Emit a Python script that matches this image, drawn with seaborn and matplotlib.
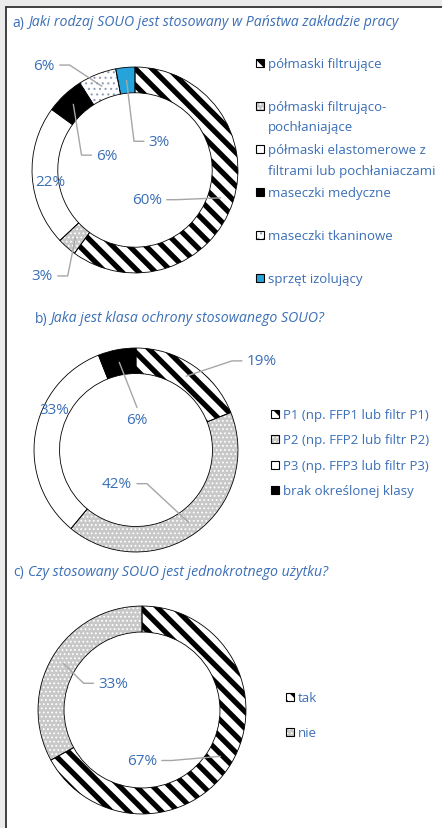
import numpy as np
import matplotlib.pyplot as plt
import seaborn as sns
from matplotlib.patches import Rectangle
from matplotlib.lines import Line2D

sns.set_theme(style='white')
plt.rcParams['font.family'] = ['Open Sans', 'DejaVu Sans']

W, H = 442, 829
BLUE_TXT = '#3b6fb6'

# a) rodzaj SOUO
a_labels = ['półmaski filtrujące', 'półmaski filtrująco-\npochłaniające',
            'półmaski elastomerowe z\nfiltrami lub pochłaniaczami',
            'maseczki medyczne', 'maseczki tkaninowe', 'sprzęt izolujący']
a_values = [60, 3, 22, 6, 6, 3]
a_styles = ['stripe', 'gray', 'white', 'black', 'wdots', 'blue']

# b) klasa ochrony
b_labels = ['P1 (np. FFP1 lub filtr P1)', 'P2 (np. FFP2 lub filtr P2)',
            'P3 (np. FFP3 lub filtr P3)', 'brak określonej klasy']
b_values = [19, 42, 33, 6]
b_styles = ['stripe', 'gray', 'white', 'black']

# c) jednokrotnego użytku
c_labels = ['tak', 'nie']
c_values = [67, 33]
c_styles = ['stripe', 'gray']

STYLES = {
    'stripe': dict(fc='white', hatch='\\\\', hc='black', hlw=3.8),
    'gray': dict(fc='#c8c8c8', hatch='....', hc='white', hlw=0.8),
    'white': dict(fc='white', hatch='', hc='white', hlw=0.8),
    'black': dict(fc='black', hatch='', hc='black', hlw=0.8),
    'wdots': dict(fc='white', hatch='...', hc='#8f9fb8', hlw=0.8),
    'blue': dict(fc='#27a3dc', hatch='', hc='#27a3dc', hlw=0.8),
}


def fx(px):
    return px / W


def fy(py):
    return 1 - py / H


def style_patch(p, key):
    s = STYLES[key]
    p.set_facecolor(s['fc'])
    p.set_edgecolor(s['hc'])
    p.set_linewidth(0)
    p.set_hatch(s['hatch'])
    if hasattr(p, 'set_hatch_linewidth'):
        p.set_hatch_linewidth(s['hlw'])


def donut(fig, cx, cy, R, values, styles, layout):
    ax = fig.add_axes([fx(cx - R), fy(cy + R), 2 * R / W, 2 * R / H])
    ax.patch.set_alpha(0)
    wedges, _ = ax.pie(values, startangle=90, counterclock=False, radius=1,
                       wedgeprops=dict(width=0.25, linewidth=0))
    for w, st in zip(wedges, styles):
        style_patch(w, st)
    ax.pie(values, startangle=90, counterclock=False, radius=1,
           wedgeprops=dict(width=0.25, facecolor='none', edgecolor='black', linewidth=0.6))
    ax.set_xlim(-1.01, 1.01)
    ax.set_ylim(-1.01, 1.01)
    ax.axis('off')

    def to_d(px, py):
        return (px - cx) / R, -(py - cy) / R

    for w, v, (tx, ty, ha, lead) in zip(wedges, values, layout):
        mid = np.deg2rad((w.theta1 + w.theta2) / 2)
        anc = (0.875 * np.cos(mid), 0.875 * np.sin(mid))
        ax.text(*to_d(tx, ty), f'{v}%', ha=ha, va='center', color=BLUE_TXT,
                fontsize=11, zorder=5)
        if lead == 'side':
            sgn = -1 if ha == 'left' else 1
            edge = tx + sgn * 5
            elbow = edge + sgn * 10
            pts = [anc, to_d(elbow, ty), to_d(edge, ty)]
        elif lead == 'top':
            pts = [anc, to_d(tx, ty - 12)]
        else:
            continue
        ax.plot([p[0] for p in pts], [p[1] for p in pts], color='#a6a6a6',
                lw=1.0, zorder=4, clip_on=False)
    return ax


def legend(fig, x, y0, step, labels, styles):
    for i, (lab, st) in enumerate(zip(labels, styles)):
        y = y0 + i * step
        s = STYLES[st]
        fill = Rectangle((fx(x), fy(y + 4)), 8 / W, 8 / H, transform=fig.transFigure,
                         facecolor=s['fc'], edgecolor=s['hc'], linewidth=0, hatch=s['hatch'])
        if hasattr(fill, 'set_hatch_linewidth'):
            fill.set_hatch_linewidth(s['hlw'])
        fig.add_artist(fill)
        fig.add_artist(Rectangle((fx(x), fy(y + 4)), 8 / W, 8 / H, transform=fig.transFigure,
                                 facecolor='none', edgecolor='black', linewidth=0.8))
        fig.text(fx(x + 12), fy(y - 6), lab, ha='left', va='top', color=BLUE_TXT,
                 fontsize=9.5, linespacing=1.75)


def title(fig, x_tag, x_txt, y, tag, txt):
    fig.text(fx(x_tag), fy(y), tag, ha='left', va='center', color=BLUE_TXT, fontsize=10)
    fig.text(fx(x_txt), fy(y), txt, ha='left', va='center', color=BLUE_TXT, fontsize=10.2,
             style='italic')


fig = plt.figure(figsize=(W / 100, H / 100), dpi=100)
fig.patch.set_facecolor('#ebebeb')
fig.add_artist(Rectangle((fx(6), 0), 1 - fx(6), fy(8), transform=fig.transFigure,
                         facecolor='white', edgecolor='none', zorder=-5))
fig.add_artist(Line2D([fx(6), 1], [fy(8), fy(8)], transform=fig.transFigure,
                      color='#333333', lw=1.3, zorder=-4))
fig.add_artist(Line2D([fx(6), fx(6)], [fy(8), 0], transform=fig.transFigure,
                      color='#333333', lw=1.3, zorder=-4))

title(fig, 12, 28, 23, 'a)', 'Jaki rodzaj SOUO jest stosowany w Państwa zakładzie pracy')
title(fig, 35, 50, 319, 'b)', 'Jaka jest klasa ochrony stosowanego SOUO?')
title(fig, 13, 28, 573, 'c)', 'Czy stosowany SOUO jest jednokrotnego użytku?')

donut(fig, 135, 171, 104, a_values, a_styles,
      [(162, 201, 'right', 'side'), (52, 278, 'right', 'side'), (49, 183, 'center', None),
       (96, 156, 'left', 'side'), (54, 65, 'right', 'side'), (149, 142, 'left', 'side')])
donut(fig, 136, 451, 103, b_values, b_styles,
      [(248, 361, 'left', 'side'), (132, 485, 'right', 'side'), (54, 410, 'center', None),
       (137, 420, 'center', 'top')])
donut(fig, 142, 711, 105, c_values, c_styles,
      [(157, 762, 'right', 'side'), (98, 684, 'left', 'side')])

legend(fig, 256, 64, 43, a_labels, a_styles)
legend(fig, 271, 415, 25.3, b_labels, b_styles)
legend(fig, 286, 698, 35, c_labels, c_styles)

fig.savefig('out.png', dpi=100, facecolor=fig.get_facecolor())
